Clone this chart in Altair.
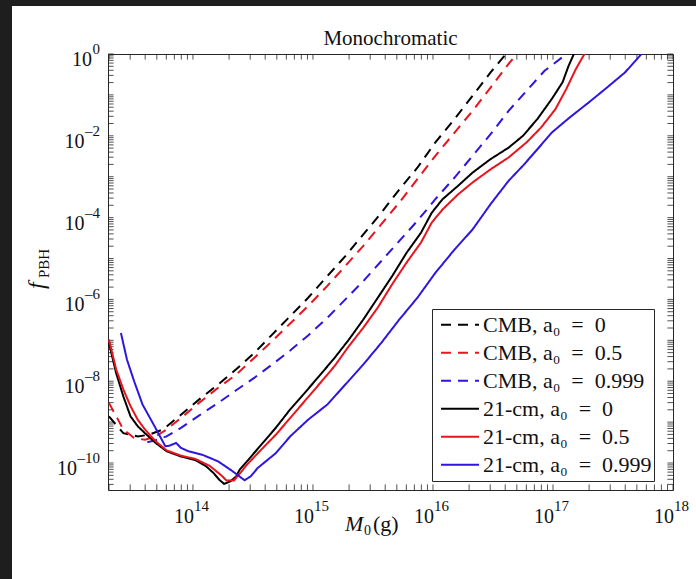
import altair as alt
import pandas as pd

# ---------------- data (log10 of M in g, log10 of f_PBH) ----------------
SERIES = [
    "CMB, a\u2080\u2002=\u20020",
    "CMB, a\u2080\u2002=\u20020.5",
    "CMB, a\u2080\u2002=\u20020.999",
    "21-cm, a\u2080\u2002=\u20020",
    "21-cm, a\u2080\u2002=\u20020.5",
    "21-cm, a\u2080\u2002=\u20020.999",
]
COLORS = ["#000000", "#e8141e", "#2e16e0", "#000000", "#e8141e", "#2e16e0"]
DASHES = [[10, 7], [10, 7], [10, 7], [1, 0], [1, 0], [1, 0]]

cmb0_logM = [13.30, 13.42, 13.54, 13.63, 13.75, 13.90, 14.05, 14.21, 14.36, 14.51, 14.66, 14.81,
             14.96, 15.12, 15.27, 15.42, 15.57, 15.72, 15.87, 16.02, 16.18, 16.33, 16.48, 16.62]
cmb0_logf = [-8.86, -9.27, -9.35, -9.31, -9.18, -8.82, -8.45, -8.08, -7.71, -7.31, -6.86, -6.41,
             -5.96, -5.43, -4.94, -4.41, -3.88, -3.31, -2.78, -2.16, -1.59, -1.02, -0.45, 0.04]

cmb05_logM = [13.30, 13.42, 13.51, 13.60, 13.69, 13.78, 13.90, 14.05, 14.21, 14.36, 14.51, 14.66, 14.81,
              14.96, 15.12, 15.27, 15.42, 15.57, 15.72, 15.87, 16.02, 16.18, 16.33, 16.48, 16.63, 16.71]
cmb05_logf = [-8.53, -9.18, -9.39, -9.43, -9.35, -9.18, -8.90, -8.53, -8.16, -7.84, -7.43, -7.02, -6.59,
              -6.16, -5.67, -5.18, -4.69, -4.16, -3.63, -3.06, -2.49, -1.92, -1.39, -0.82, -0.24, 0.04]

cmb0999_logM = [13.62, 13.69, 13.78, 13.90, 14.05, 14.21, 14.36, 14.51, 14.66, 14.81, 14.96, 15.12, 15.27,
                15.42, 15.57, 15.72, 15.87, 16.02, 16.18, 16.33, 16.48, 16.63, 16.78, 16.93, 17.13]
cmb0999_logf = [-9.49, -9.44, -9.35, -9.14, -8.84, -8.53, -8.22, -7.92, -7.59, -7.25, -6.88, -6.45, -6.00,
                -5.55, -5.06, -4.57, -4.08, -3.55, -3.02, -2.49, -1.96, -1.39, -0.90, -0.41, 0.04]

h21_0_logM = [13.30, 13.36, 13.42, 13.48, 13.54, 13.60, 13.69, 13.78, 13.90, 14.02, 14.11, 14.17, 14.22, 14.26,
              14.31, 14.36, 14.39, 14.45, 14.57, 14.69, 14.81, 14.93, 15.05, 15.18, 15.30, 15.42, 15.54, 15.66,
              15.78, 15.90, 15.99, 16.08, 16.21, 16.33, 16.48, 16.63, 16.75, 16.87, 16.99, 17.08, 17.13, 17.18]
h21_0_logf = [-7.06, -7.80, -8.37, -8.86, -9.10, -9.27, -9.51, -9.71, -9.84, -9.93, -10.08, -10.24, -10.41, -10.51,
              -10.45, -10.33, -10.16, -9.96, -9.55, -9.14, -8.69, -8.29, -7.88, -7.43, -6.98, -6.49, -5.96, -5.43,
              -4.86, -4.37, -3.88, -3.55, -3.22, -2.90, -2.57, -2.29, -2.00, -1.59, -1.10, -0.69, -0.29, 0.04]

h21_05_logM = [13.30, 13.36, 13.42, 13.48, 13.54, 13.60, 13.69, 13.78, 13.90, 14.02, 14.14, 14.24, 14.28, 14.34,
               14.39, 14.45, 14.57, 14.69, 14.81, 14.93, 15.05, 15.18, 15.30, 15.42, 15.54, 15.66, 15.78, 15.90,
               15.99, 16.08, 16.21, 16.33, 16.48, 16.63, 16.78, 16.90, 17.02, 17.11, 17.19, 17.27]
h21_05_logf = [-6.98, -7.71, -8.20, -8.61, -8.94, -9.18, -9.47, -9.69, -9.82, -9.90, -10.07, -10.31, -10.43, -10.43,
               -10.26, -10.04, -9.67, -9.31, -8.90, -8.49, -8.08, -7.63, -7.14, -6.69, -6.20, -5.63, -5.10, -4.61,
               -4.12, -3.80, -3.43, -3.14, -2.82, -2.53, -2.16, -1.80, -1.35, -0.86, -0.37, 0.04]

h21_0999_logM = [13.40, 13.45, 13.51, 13.58, 13.68, 13.77, 13.80, 13.86, 13.90, 13.96, 14.08, 14.21, 14.33, 14.43,
                 14.48, 14.54, 14.69, 14.81, 14.96, 15.12, 15.27, 15.42, 15.57, 15.72, 15.87, 16.02, 16.18, 16.33,
                 16.48, 16.63, 16.75, 16.87, 16.99, 17.14, 17.30, 17.45, 17.60, 17.75]
h21_0999_logf = [-6.82, -7.47, -8.00, -8.57, -9.10, -9.59, -9.58, -9.51, -9.63, -9.71, -9.80, -9.96, -10.20, -10.42,
                 -10.33, -10.12, -9.76, -9.35, -8.94, -8.57, -8.08, -7.59, -7.06, -6.49, -5.96, -5.35, -4.78, -4.29,
                 -3.67, -3.10, -2.73, -2.33, -1.92, -1.55, -1.18, -0.82, -0.45, 0.04]

ALL = [(cmb0_logM, cmb0_logf), (cmb05_logM, cmb05_logf), (cmb0999_logM, cmb0999_logf),
       (h21_0_logM, h21_0_logf), (h21_05_logM, h21_05_logf), (h21_0999_logM, h21_0999_logf)]

X_LABEL_EXP = ["14", "15", "16", "17", "18"]
Y_LABEL_EXP = ["\u201310", "\u20138", "\u20136", "\u20134", "\u20132", "0"]

# ---------------- tables ----------------
rows = []
for name, (lm, lf) in zip(SERIES, ALL):
    for i, (a, b) in enumerate(zip(lm, lf)):
        rows.append({"series": name, "M": 10 ** a, "f": 10 ** b, "i": i})
df = pd.DataFrame(rows)

XMIN, XMAX = 1.96e13, 1e18
YMIN, YMAX = 2.19e-11, 1.0
W, H = 565, 436
TL = 5.6
INK = "#262626"
TXT = "#111111"
FONT = "Liberation Serif"
BASE_FS, EXP_FS = 20, 15

xt = pd.DataFrame({"v": [m * 10.0 ** k for k in range(13, 18) for m in range(1, 10)
                         if XMIN <= m * 10.0 ** k <= XMAX] + [1e18]})
yt = pd.DataFrame({"v": [m * 10.0 ** k for k in range(-11, 0) for m in range(1, 10)
                         if YMIN <= m * 10.0 ** k <= YMAX] + [1.0]})


def exp_value(s):
    return 10.0 ** int(s.replace("\u2013", "-"))


xl = pd.DataFrame({"v": [exp_value(e) for e in X_LABEL_EXP], "e": X_LABEL_EXP})
yl = pd.DataFrame({"v": [exp_value(e) for e in Y_LABEL_EXP], "e": Y_LABEL_EXP, "n": [len(e) for e in Y_LABEL_EXP]})

xscale = alt.Scale(type="log", domain=[XMIN, XMAX], nice=False)
yscale = alt.Scale(type="log", domain=[YMIN, YMAX], nice=False)

leg = alt.Legend(title=None, orient="none", legendX=324, legendY=255, labelFont=FONT,
                 labelFontSize=22, labelColor=TXT, symbolType="stroke", symbolSize=1444,
                 symbolStrokeWidth=2, fillColor="white", strokeColor=INK, padding=2,
                 clipHeight=27.5, rowPadding=0, labelLimit=400, labelOffset=3, symbolOffset=6)

lines = alt.Chart(df).mark_line(strokeWidth=2, clip=True).encode(
    x=alt.X("M:Q", scale=xscale, axis=None),
    y=alt.Y("f:Q", scale=yscale, axis=None),
    color=alt.Color("series:N", scale=alt.Scale(domain=SERIES, range=COLORS), legend=leg),
    strokeDash=alt.StrokeDash("series:N", scale=alt.Scale(domain=SERIES, range=DASHES), legend=leg),
    order="i:Q",
)

# ticks pointing inward on all four sides
tick_x_bottom = alt.Chart(xt).mark_rule(color=INK, strokeWidth=0.8).encode(
    x=alt.X("v:Q", scale=xscale, axis=None), y=alt.value(H), y2=alt.value(H - TL))
tick_x_top = alt.Chart(xt).mark_rule(color=INK, strokeWidth=0.8).encode(
    x=alt.X("v:Q", scale=xscale, axis=None), y=alt.value(0), y2=alt.value(TL))
tick_y_left = alt.Chart(yt).mark_rule(color=INK, strokeWidth=0.8).encode(
    y=alt.Y("v:Q", scale=yscale, axis=None), x=alt.value(0), x2=alt.value(TL))
tick_y_right = alt.Chart(yt).mark_rule(color=INK, strokeWidth=0.8).encode(
    y=alt.Y("v:Q", scale=yscale, axis=None), x=alt.value(W), x2=alt.value(W - TL))

# tick labels: base "10" plus raised exponent
x_base = alt.Chart(xl).mark_text(text="10", font=FONT, fontSize=BASE_FS, color=TXT, align="right",
                                 baseline="middle", dx=1).encode(
    x=alt.X("v:Q", scale=xscale, axis=None), y=alt.value(H + 27))
x_exp = alt.Chart(xl).mark_text(font=FONT, fontSize=EXP_FS, color=TXT, align="left",
                                baseline="middle", dx=1).encode(
    x=alt.X("v:Q", scale=xscale, axis=None), y=alt.value(H + 16), text="e:N")

y_exp = alt.Chart(yl).mark_text(font=FONT, fontSize=EXP_FS, color=TXT, align="right",
                                baseline="middle", dy=-5).encode(
    y=alt.Y("v:Q", scale=yscale, axis=None), x=alt.value(-8), text="e:N")
y_base = []
for n in sorted(set(yl["n"])):
    y_base.append(
        alt.Chart(yl).transform_filter(alt.datum.n == n).mark_text(
            text="10", font=FONT, fontSize=BASE_FS, color=TXT, align="right", baseline="middle", dy=6
        ).encode(y=alt.Y("v:Q", scale=yscale, axis=None), x=alt.value(-8.5 - 7.5 * n))
    )

dummy = alt.Data(values=[{"a": 1}])


def txt(s, x, y, size, italic=False, angle=None, align="left"):
    kw = dict(text=s, font=FONT, fontSize=size, color=TXT, align=align, baseline="alphabetic")
    if italic:
        kw["fontStyle"] = "italic"
    if angle is not None:
        kw["angle"] = angle
    return alt.Chart(dummy).mark_text(**kw).encode(x=alt.value(x), y=alt.value(y))


annotations = [
    txt("Monochromatic", W / 2, -9, 21, align="center"),
    txt("f", -64, 235, 24, italic=True, angle=270),
    txt("PBH", -59, 224, 15, angle=270),
    txt("M", 237, 477, 22, italic=True),
    txt("0", 256, 481, 14),
    txt("(g)", 265, 477, 22),
]

frame_top = alt.Chart(dummy).mark_rect(color="#1e1e1e").encode(
    x=alt.value(-108), x2=alt.value(588), y=alt.value(-54), y2=alt.value(-48))
frame_left = alt.Chart(dummy).mark_rect(color="#1e1e1e").encode(
    x=alt.value(-108), x2=alt.value(-96), y=alt.value(-54), y2=alt.value(525))

chart = alt.layer(
    frame_top, frame_left, tick_x_bottom, tick_x_top, tick_y_left, tick_y_right,
    x_base, x_exp, y_exp, *y_base, lines, *annotations
).properties(
    width=W, height=H,
    padding={"left": 108, "top": 54, "right": 23, "bottom": 89},
    autosize="none",
    background="white",
).configure_view(stroke=INK, strokeWidth=1)

chart.save("out.html", embed_options={"renderer": "svg", "actions": False})
